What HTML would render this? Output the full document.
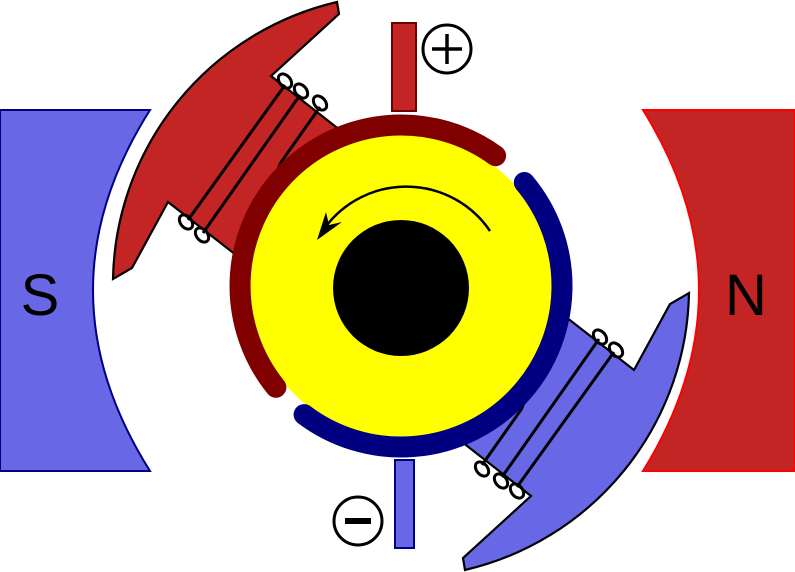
<!DOCTYPE html>
<html><head><meta charset="utf-8"><style>html,body{margin:0;padding:0;background:#fff}svg{display:block}</style></head>
<body>
<svg width="795" height="572" viewBox="0 0 795 572" xmlns="http://www.w3.org/2000/svg">
<defs>
<g id="coil" fill="none" stroke="#000" stroke-width="3">
<path d="M188,220 L285,85"/><path d="M203,233 L300,95"/><path d="M320,107 L284,158 Q276,168 279,176"/>
<ellipse cx="186" cy="222" rx="5.5" ry="8" transform="rotate(-40 186 222)"/>
<ellipse cx="202" cy="235" rx="5.5" ry="8" transform="rotate(-40 202 235)"/>
<ellipse cx="285" cy="81" rx="5.5" ry="8" transform="rotate(-40 285 81)"/>
<ellipse cx="301" cy="91" rx="5.5" ry="8" transform="rotate(-40 301 91)"/>
<ellipse cx="320" cy="103" rx="5.5" ry="8" transform="rotate(-40 320 103)"/>
</g>
</defs>
<!-- stators -->
<path d="M0,110 L150,110 Q36,290 150,471 L0,471 Z" fill="#6868e6" stroke="#000080" stroke-width="2"/>
<path d="M795,110 L643,110 Q755,290 643,471 L795,471 Z" fill="#c32424" stroke="#ff0000" stroke-width="2"/>
<text x="40" y="315" font-family="Liberation Sans, sans-serif" font-size="58" text-anchor="middle" fill="#000">S</text>
<text x="746" y="315" font-family="Liberation Sans, sans-serif" font-size="58" text-anchor="middle" fill="#000">N</text>
<!-- armature -->
<path d="M113,279 A290,290 0 0 1 337,2 L339,14 L271,76 L345,134 L245,262 L168,202 L132,268 Z" fill="#c32424" stroke="#000" stroke-width="2.2"/>
<use href="#coil"/>
<g transform="rotate(180 401 286)">
<path d="M113,279 A290,290 0 0 1 337,2 L339,14 L271,76 L345,134 L245,262 L168,202 L132,268 Z" fill="#6868e6" stroke="#000" stroke-width="2.2"/>
<use href="#coil"/>
</g>
<!-- rotor -->
<circle cx="401" cy="286" r="152" fill="#ffff00"/>
<path d="M495.6,155.7 A161,161 0 0 0 275.9,387.3" fill="none" stroke="#800000" stroke-width="21" stroke-linecap="round"/>
<path d="M524.3,182.5 A161,161 0 0 1 304.1,414.6" fill="none" stroke="#000080" stroke-width="21" stroke-linecap="round"/>
<circle cx="401" cy="288" r="68" fill="#000"/>
<!-- rotation arrow -->
<path d="M490,231 A101,101 0 0 0 322,232" fill="none" stroke="#000" stroke-width="2.5"/>
<path d="M317,240 L326,212 L329,225 L342,222 Z" fill="#000"/>
<!-- brushes -->
<rect x="392" y="23" width="24" height="88" fill="#c32424" stroke="#6b0000" stroke-width="2"/>
<rect x="395" y="460" width="19" height="88" fill="#6868e6" stroke="#000080" stroke-width="2"/>
<circle cx="447" cy="49" r="24" fill="#fff" stroke="#000" stroke-width="3"/>
<path d="M432,49 H462 M447,34 V64" stroke="#000" stroke-width="3.5"/>
<circle cx="358" cy="521" r="24" fill="#fff" stroke="#000" stroke-width="3"/>
<path d="M345,521 H371" stroke="#000" stroke-width="6"/>
</svg>
</body></html>
